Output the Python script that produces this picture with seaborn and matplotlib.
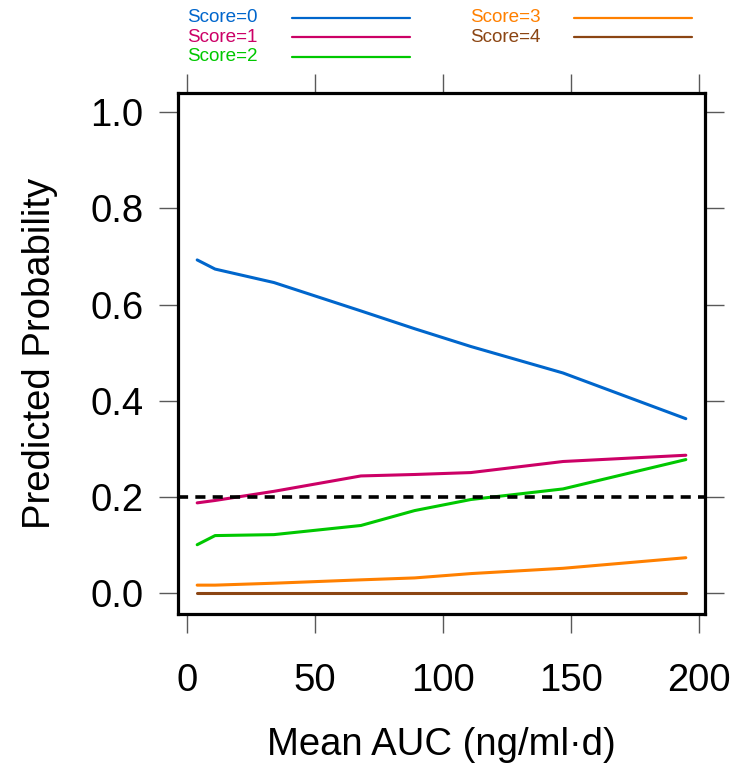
import matplotlib
matplotlib.use("Agg")
import matplotlib.pyplot as plt
from matplotlib.lines import Line2D
import numpy as np
import pandas as pd
import seaborn as sns

# Predicted probability of each score across mean AUC
auc = [4, 11, 34, 68, 89, 111, 147, 195]
p_score0 = [0.693, 0.674, 0.646, 0.587, 0.550, 0.513, 0.458, 0.363]
p_score1 = [0.188, 0.193, 0.212, 0.244, 0.247, 0.251, 0.274, 0.287]
p_score2 = [0.101, 0.120, 0.122, 0.141, 0.172, 0.195, 0.217, 0.278]
p_score3 = [0.017, 0.017, 0.021, 0.028, 0.032, 0.041, 0.052, 0.074]
p_score4 = [0.001, 0.001, 0.001, 0.001, 0.001, 0.001, 0.001, 0.001]

labels = ["Score=0", "Score=1", "Score=2", "Score=3", "Score=4"]
colors = ["#0066CC", "#CC0066", "#00C800", "#FF8000", "#8B4513"]
threshold = 0.2
x_ticks = [0, 50, 100, 150, 200]
y_ticks = [0.0, 0.2, 0.4, 0.6, 0.8, 1.0]

series = [p_score0, p_score1, p_score2, p_score3, p_score4]
df = pd.concat(
    [pd.DataFrame({"auc": auc, "prob": s, "score": lab}) for s, lab in zip(series, labels)],
    ignore_index=True,
)

sns.set_theme(style="white")
plt.rcParams["font.family"] = ["Liberation Sans", "DejaVu Sans"]

fig = plt.figure(figsize=(7.46, 7.67), dpi=100)
ax = fig.add_axes([178 / 746, 1 - 614 / 767, 527 / 746, 521 / 767])

sns.lineplot(data=df, x="auc", y="prob", hue="score", hue_order=labels,
             palette=dict(zip(labels, colors)), linewidth=2.2, legend=False,
             ax=ax, zorder=3)
ax.axhline(threshold, color="black", linewidth=2.6, linestyle=(0, (2.8, 2.0)), zorder=4)

ax.set_xlim(-3.5, 202.5)
ax.set_ylim(-0.043, 1.04)
ax.set_xticks(x_ticks)
ax.set_yticks(y_ticks)
ax.set_xticklabels([str(v) for v in x_ticks])
ax.set_yticklabels([f"{v:.1f}" for v in y_ticks])

for sp in ax.spines.values():
    sp.set_visible(True)
    sp.set_color("black")
    sp.set_linewidth(2.3)

ax.tick_params(axis="both", which="both", direction="out", length=14, width=1.0,
               color="0.35", labelsize=27.5, labelcolor="black",
               top=True, right=True, bottom=True, left=True,
               labeltop=False, labelright=False)
ax.tick_params(axis="x", pad=21)
ax.tick_params(axis="y", pad=11)

ax.set_xlabel("Mean AUC (ng/ml·d)", fontsize=27.5, color="black")
ax.set_ylabel("Predicted Probability", fontsize=27.5, color="black")
ax.xaxis.set_label_coords(0.5, (614 - 745) / 521)
ax.xaxis.label.set_va("center")
ax.yaxis.set_label_coords((40 - 178) / 527, 0.5)
ax.yaxis.label.set_va("center")

# Key above the panel: two columns, text followed by a line sample
rows_y = [17.5, 37.0, 56.5]
col_text_x = [187, 470]
col_line_x = [(292, 410), (574, 692)]
for i, (lab, col) in enumerate(zip(labels, colors)):
    c = 0 if i < 3 else 1
    r = i if i < 3 else i - 3
    yf = 1 - rows_y[r] / 767
    fig.text(col_text_x[c] / 746, yf, lab, color=col, fontsize=13.6,
             ha="left", va="center")
    x0, x1 = col_line_x[c]
    fig.add_artist(Line2D([x0 / 746, x1 / 746], [yf, yf], color=col,
                          linewidth=1.6, transform=fig.transFigure))

fig.savefig("out.png", dpi=100)
